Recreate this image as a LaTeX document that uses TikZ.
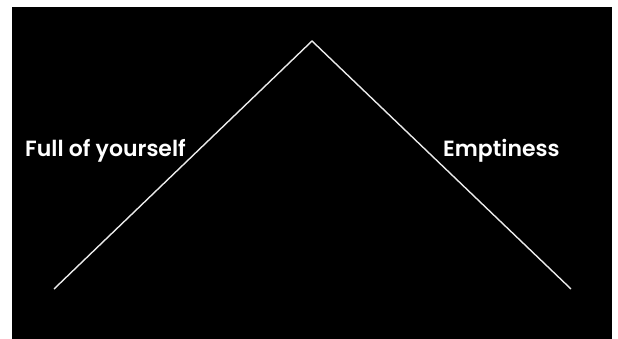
\documentclass[tikz,border=0pt]{standalone}
\usepackage{fontspec}
\setmainfont{Poppins}[UprightFont=* SemiBold]
\usetikzlibrary{positioning}

\begin{document}
\begin{tikzpicture}[x=1pt,y=-1pt,
    label text/.style={text=white,font=\fontsize{22}{26}\selectfont,anchor=base west,inner sep=0pt}]
    % Ramme og sort baggrund
    \useasboundingbox (0,0) rectangle (618,339);
    \fill[white] (0,0) rectangle (618,339);
    \fill[black] (12,7) rectangle (612,339);
    % Toppunkt og endepunkter
    \coordinate (left) at (54,289);
    \coordinate (top) at (312,41);
    \coordinate (right) at (571,289);
    \draw[white!92!black,line width=1.4pt] (left) -- (top) -- (right);
    % Tekster
    \node[label text] (full) at (25,157) {Full of yourself};
    \node[label text] (empty) at (443,157) {Emptiness};
\end{tikzpicture}
\end{document}
